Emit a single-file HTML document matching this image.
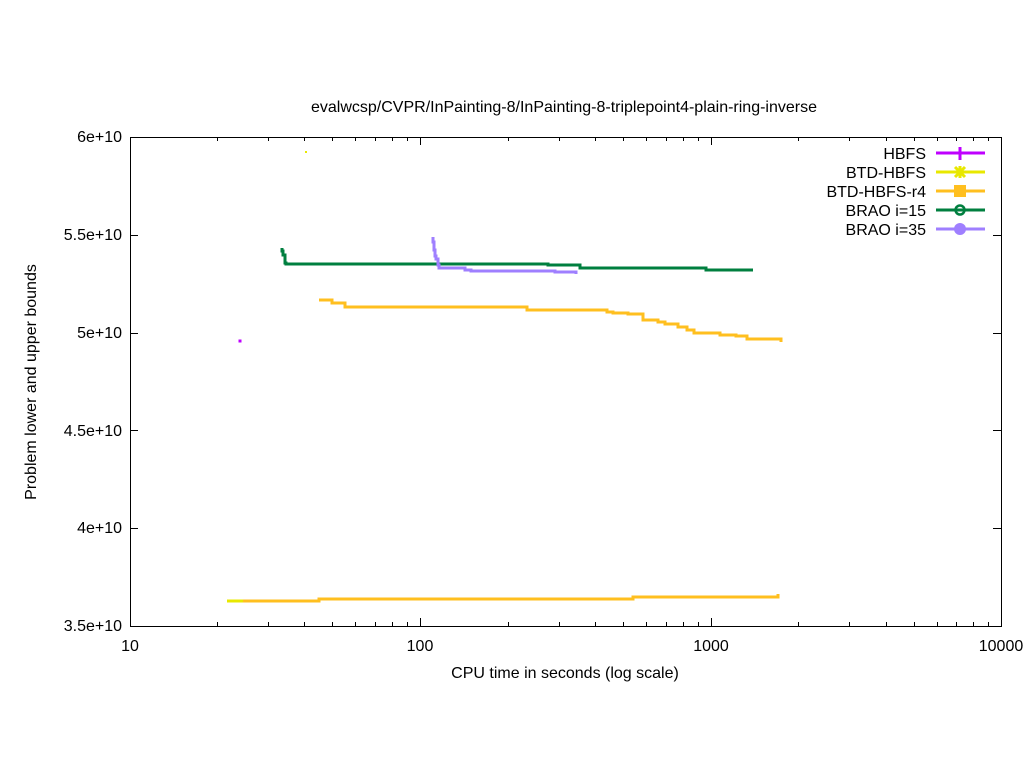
<!DOCTYPE html>
<html><head><meta charset="utf-8"><style>body{margin:0;background:#fff}svg{display:block}text{font-family:"Liberation Sans",sans-serif;font-size:16px;fill:#000}</style></head><body>
<svg width="1024" height="768" xmlns="http://www.w3.org/2000/svg">
<rect width="1024" height="768" fill="#fff"/>
<text x="564" y="112" text-anchor="middle">evalwcsp/CVPR/InPainting-8/InPainting-8-triplepoint4-plain-ring-inverse</text>
<g stroke="#000" stroke-width="1" fill="none">
<rect x="130.5" y="137.5" width="871" height="489"/>
<path d="M130 235.5h8M1001 235.5h-8M130 333.5h8M1001 333.5h-8M130 430.5h8M1001 430.5h-8M130 528.5h8M1001 528.5h-8"/>
<path d="M420.5 626v-8M420.5 137v8M711.5 626v-8M711.5 137v8"/>
<path d="M217.5 626v-4M268.5 626v-4M304.5 626v-4M332.5 626v-4M355.5 626v-4M375.5 626v-4M392.5 626v-4M407.5 626v-4M508.5 626v-4M559.5 626v-4M595.5 626v-4M623.5 626v-4M646.5 626v-4M666.5 626v-4M683.5 626v-4M698.5 626v-4M798.5 626v-4M849.5 626v-4M886.5 626v-4M914.5 626v-4M937.5 626v-4M956.5 626v-4M973.5 626v-4M988.5 626v-4"/>
<path d="M217.5 137v4M268.5 137v4M304.5 137v4M332.5 137v4M355.5 137v4M375.5 137v4M392.5 137v4M407.5 137v4M508.5 137v4M559.5 137v4M595.5 137v4M623.5 137v4M646.5 137v4M666.5 137v4M683.5 137v4M698.5 137v4M798.5 137v4M849.5 137v4M886.5 137v4M914.5 137v4M937.5 137v4M956.5 137v4M973.5 137v4M988.5 137v4"/>
</g>
<g text-anchor="end">
<text x="122" y="142">6e+10</text><text x="122" y="240">5.5e+10</text><text x="122" y="338">5e+10</text><text x="122" y="436">4.5e+10</text><text x="122" y="533">4e+10</text><text x="122" y="631">3.5e+10</text>
</g>
<g text-anchor="middle">
<text x="130" y="651">10</text><text x="420" y="651">100</text><text x="711" y="651">1000</text><text x="1001" y="651">10000</text>
<text x="565" y="678">CPU time in seconds (log scale)</text>
</g>
<text transform="translate(36 382) rotate(-90)" text-anchor="middle">Problem lower and upper bounds</text>
<g fill="none" stroke-width="3">
<path stroke="#007f3f" d="M282 248V251H283V255H285V263H286V264H548V265H580V268H706V270H753"/>
<path stroke="#9f7fff" d="M433 237V242H434V250H435V256H436V259H438V265H439V268H465V270H471V271H555V272H576V274"/>
<path stroke="#ffbf1f" d="M319 300H332V303H345V307H527V310H607V312H613V313H628V314H643V320H658V322H665V324H678V327H687V330H694V333H720V335H736V336H747V339H781V342"/>
<path stroke="#ffbf1f" d="M227 601H319V599H633V597H778V594"/>
<path stroke="#e8e800" d="M227 601H243"/>
</g>
<rect x="238.5" y="339.5" width="3" height="3" fill="#bf00ff"/>
<rect x="305" y="151" width="2" height="2" fill="#e8e800"/>
<g text-anchor="end">
<text x="926" y="159">HBFS</text><text x="926" y="178">BTD-HBFS</text><text x="926" y="197">BTD-HBFS-r4</text><text x="926" y="216">BRAO i=15</text><text x="926" y="235">BRAO i=35</text>
</g>
<g stroke-width="3" fill="none">
<path stroke="#bf00ff" d="M936 153H985M960 147V160"/>
<path stroke="#e8e800" d="M936 172H985M955 167l10 10M955 177l10-10M960 166v12"/>
<path stroke="#ffbf1f" d="M936 191H985"/>
<path stroke="#007f3f" d="M936 210H985"/>
<path stroke="#9f7fff" d="M936 229H985"/>
</g>
<rect x="954" y="185" width="12" height="12" fill="#ffbf1f"/>
<circle cx="960" cy="210" r="4.5" fill="none" stroke="#007f3f" stroke-width="2.5"/>
<circle cx="960" cy="229" r="6" fill="#9f7fff"/>
</svg>
</body></html>
